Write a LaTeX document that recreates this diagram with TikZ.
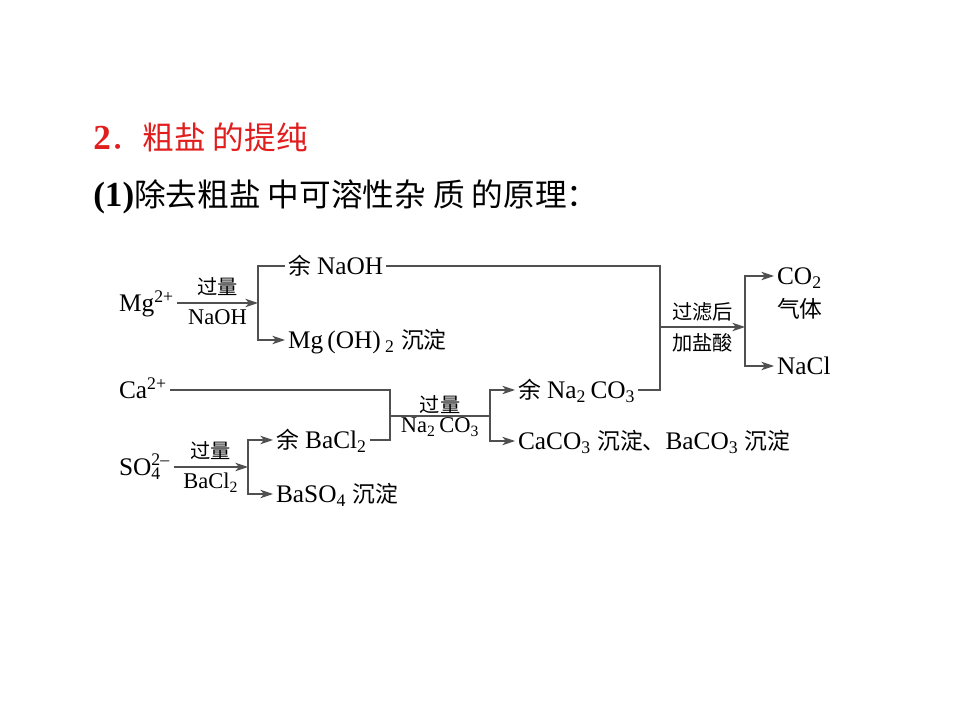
\documentclass[tikz,border=0pt]{standalone}
\usepackage{fontspec}
\setmainfont{Liberation Serif}
\newfontfamily\cjk[Scale=0.9]{Noto Sans CJK SC}
\usetikzlibrary{calc,positioning,arrows.meta}
\definecolor{titlered}{RGB}{225,30,30}
\definecolor{linegray}{RGB}{80,80,80}

\begin{document}
\begin{tikzpicture}[x=0.025cm, y=-0.025cm,
    chem/.style={anchor=west, inner xsep=2pt, inner ysep=0pt, text height=12pt, text depth=0pt, font=\fontsize{18}{20}\selectfont},
    cond/.style={inner sep=1pt, font=\fontsize{16}{18}\selectfont},
    link/.style={draw=linegray, line width=0.8pt},
    arrow/.style={->, >={Stealth[length=9pt, width=6pt, inset=2.5pt]}, draw=linegray, line width=0.8pt},
]
\useasboundingbox (0,0) rectangle (960,720);

% Headings
\node[anchor=west, inner sep=0pt, text=titlered, font=\fontsize{25}{28}\selectfont] (title) at (93,137) {\textbf{2}{\cjk ．粗盐 的提纯}};
\node[anchor=west, inner sep=0pt, font=\fontsize{25}{28}\selectfont] (subtitle) at (93,197) {\textbf{(1)}{\cjk 除去粗盐 中可溶性杂 质 的原理：}};

% Ions
\node[chem] (mg) at (116,303) {Mg\textsuperscript{2+}};
\node[chem] (ca) at (116,390) {Ca\textsuperscript{2+}};
\node[chem] (so) at (116,467) {SO\rlap{\raisebox{1pt}{\textsuperscript{2\textendash}}}\textsubscript{4}\hphantom{\textsuperscript{\textendash}}};

% Products
\node[chem] (naoh) at (285,266) {{\cjk 余} NaOH};
\node[chem] (mgoh) at (285,340) {Mg\,(OH)\,\textsubscript{2} {\cjk 沉淀}};
\node[chem] (bacl) at (273,440) {{\cjk 余} BaCl\textsubscript{2}};
\node[chem] (baso) at (273,494) {BaSO\textsubscript{4} {\cjk 沉淀}};
\node[chem] (naco) at (515,390) {{\cjk 余} Na\textsubscript{2}\,CO\textsubscript{3}};
\node[chem] (caco) at (515,441) {CaCO\textsubscript{3} {\cjk 沉淀、}BaCO\textsubscript{3} {\cjk 沉淀}};
\node[chem] (co) at (774,276) {CO\textsubscript{2}};
\node[chem] (gas) at (774,309) {{\cjk 气体}};
\node[chem] (nacl) at (774,366) {NaCl};

% Branch points
\coordinate (f1) at (258,303);
\coordinate (f2) at (248,467);
\coordinate (j1) at (390,416);
\coordinate (f3) at (490,416);
\coordinate (j2) at (660,327);
\coordinate (f4) at (745,327);

% Mg and the excess NaOH
\draw[arrow] (mg.east) -- (f1) node[cond, midway, above=4pt] (c1) {{\cjk 过量}} node[cond, midway, below=3pt] (c2) {NaOH};
\draw[link] (f1) |- (naoh.west);
\draw[arrow] (f1) |- (mgoh.west);

% Sulfate and the excess BaCl2
\draw[arrow] (so.east) -- (f2) node[cond, midway, above=4pt] (c3) {{\cjk 过量}} node[cond, midway, below=3pt] (c4) {BaCl\textsubscript{2}};
\draw[arrow] (f2) |- (bacl.west);
\draw[arrow] (f2) |- (baso.west);

% Ca and the excess Na2CO3
\draw[link] (ca.east) -| (j1);
\draw[link] (bacl.east) -| (j1);
\draw[link] (j1) -- (f3) node[cond, midway, above=0pt] (c5) {{\cjk 过量}} node[cond, midway, below=0pt] (c6) {Na\textsubscript{2}\,CO\textsubscript{3}};
\draw[arrow] (f3) |- (naco.west);
\draw[arrow] (f3) |- (caco.west);

% Filter, then hydrochloric acid
\draw[link] (naoh.east) -| (j2);
\draw[link] (naco.east) -| (j2);
\draw[arrow] (j2) -- (f4) node[cond, midway, above=3pt] (c7) {{\cjk 过滤后}} node[cond, midway, below=3pt] (c8) {{\cjk 加盐酸}};
\draw[arrow] (f4) |- (co.west);
\draw[arrow] (f4) |- (nacl.west);
\end{tikzpicture}
\end{document}
